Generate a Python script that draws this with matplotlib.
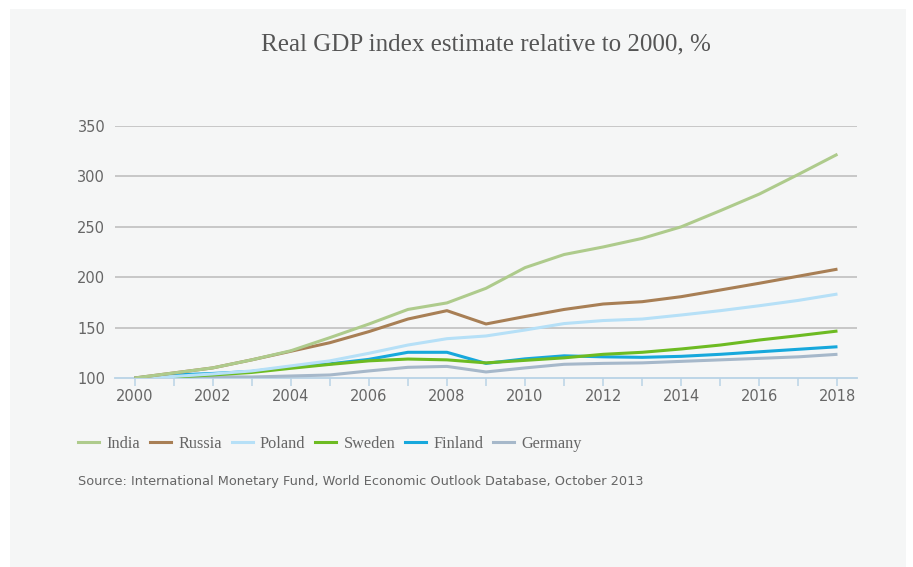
import matplotlib
matplotlib.use("Agg")
import matplotlib.pyplot as plt
from matplotlib.patches import Rectangle
from matplotlib.lines import Line2D

years = list(range(2000, 2019))

india = [100, 105, 110, 118, 127, 140, 153.5, 168, 174.5, 189, 209.5, 222.5, 230, 238.5, 250, 266, 282.5, 302, 322]
russia = [100, 105, 110, 118, 126.5, 135, 146, 158.5, 166.8, 153.6, 161, 168, 173.4, 175.7, 180.7, 187.3, 194, 201, 208]
poland = [100, 101.5, 104, 107, 112, 117, 124.5, 132.7, 139, 141.7, 147.6, 154, 157, 158.5, 162.5, 166.8, 171.7, 177, 183.3]
sweden = [100, 101, 103, 105.5, 109.6, 113.5, 117, 118.8, 118, 115, 117.5, 120, 123.5, 125.5, 128.8, 132.7, 137.7, 142, 146.6]
finland = [100, 103, 104.5, 106.5, 111, 114, 118.5, 125.5, 125.5, 114.5, 119, 122, 121, 120.5, 121.5, 123.5, 126, 128.5, 131]
germany = [100, 101.2, 101.2, 101, 102, 103, 107, 110.6, 111.5, 106, 110, 113.6, 114.5, 115, 116.5, 118, 119.5, 121, 123.5]

names = ["India", "Russia", "Poland", "Sweden", "Finland", "Germany"]
series = [india, russia, poland, sweden, finland, germany]
colors = ["#aecb8c", "#a87f55", "#b6e0f7", "#6dbb22", "#17a8dc", "#a6b8ca"]

y_ticks = [100, 150, 200, 250, 300, 350]
x_ticks = list(range(2000, 2019, 2))

W, H = 913, 567
fig = plt.figure(figsize=(W / 100, H / 100), dpi=100)
fig.patch.set_facecolor("white")

# light grey panel behind everything
fig.add_artist(Rectangle((10 / W, 0), 896 / W, 1 - 9 / H, transform=fig.transFigure,
                         facecolor="#f5f6f6", edgecolor="none", zorder=0))

# plot area in pixels
left, right = 115, 857
bottom_px, top_px = 378, 126
ax = fig.add_axes([left / W, 1 - bottom_px / H, (right - left) / W, (bottom_px - top_px) / H])
ax.set_facecolor("none")
ax.set_xlim(1999.5, 2018.5)
ax.set_ylim(100, 350)

for y in y_ticks[1:]:
    ax.axhline(y, color="#c4c4c4", lw=1.3, zorder=1)

for vals, c in zip(series[::-1], colors[::-1]):
    ax.plot(years, vals, color=c, lw=2.2, zorder=3, solid_capstyle="butt")

for s in ["top", "right", "left"]:
    ax.spines[s].set_visible(False)
ax.spines["bottom"].set_color("#b9d3e6")
ax.spines["bottom"].set_linewidth(1.3)
ax.spines["bottom"].set_zorder(2)

ax.set_xticks(x_ticks)
ax.set_xticks(years, minor=True)
ax.set_xticklabels([str(x) for x in x_ticks])
ax.set_yticks(y_ticks)
ax.set_yticklabels([str(y) for y in y_ticks])
ax.tick_params(axis="x", which="both", direction="out", length=6, width=1.1,
               color="#b9d3e6", labelsize=10.5, labelcolor="#666666", pad=2)
ax.tick_params(axis="y", length=0, labelsize=10.5, labelcolor="#666666", pad=7)
for lbl in ax.get_xticklabels() + ax.get_yticklabels():
    lbl.set_fontfamily("DejaVu Sans")

fig.text(486 / W, 1 - 44 / H, "Real GDP index estimate relative to 2000, %",
         ha="center", va="center", fontsize=18, color="#555555",
         family="Liberation Serif")

handles = [Line2D([0], [0], color=c, lw=2.2) for c in colors]
leg = fig.legend(handles, names, loc="center left", bbox_to_anchor=(78 / W, 1 - 444 / H),
                 ncol=6, frameon=False, handlelength=1.3, handletextpad=0.45,
                 columnspacing=0.6, borderpad=0, borderaxespad=0,
                 prop={"family": "Liberation Serif", "size": 11.7})
for t in leg.get_texts():
    t.set_color("#666666")

fig.text(78 / W, 1 - 482 / H,
         "Source: International Monetary Fund, World Economic Outlook Database, October 2013",
         ha="left", va="center", fontsize=9.3, color="#666666", family="DejaVu Sans")

fig.savefig("out.png", dpi=100, facecolor=fig.get_facecolor())
